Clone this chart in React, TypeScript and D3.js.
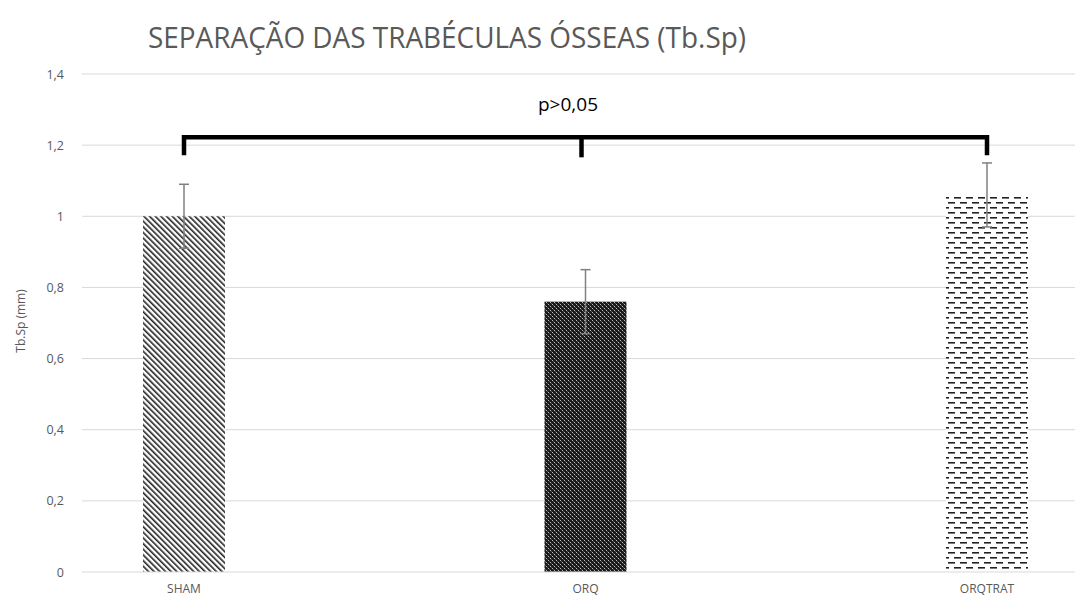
import React from "react";
import * as d3 from "d3";

const categories = ["SHAM", "ORQ", "ORQTRAT"];
const means = [1.0, 0.76, 1.06];
const errors = [0.09, 0.09, 0.09];
const yTicks = [0, 0.2, 0.4, 0.6, 0.8, 1.0, 1.2, 1.4];
const patternIds = ["pSham", "pOrq", "pOrqtrat"];
const title = "SEPARAÇÃO DAS TRABÉCULAS ÓSSEAS (Tb.Sp)";
const yLabel = "Tb.Sp (mm)";
const pLabel = "p>0,05";
const bracketLevel = 1.222;

const W = 1082;
const H = 600;

export default function App() {
  const y = d3.scaleLinear().domain([0, 1.4]).range([572, 74]);
  const x = d3.scalePoint<string>().domain(categories).range([184, 987]);
  const barW = 82;
  const fmt = (v: number) => (Number.isInteger(v) ? String(v) : d3.format(".1f")(v).replace(".", ","));
  const by = y(bracketLevel);
  const tickBottom = by + 18;
  const xs = categories.map((c) => x(c)!);
  const mid = (xs[0] + xs[2]) / 2;

  return (
    <svg width={W} height={H} style={{ position: "absolute", left: 0, top: 0, background: "#fff" }}>
      <defs>
        <pattern id="pSham" width="4" height="4" patternUnits="userSpaceOnUse" patternTransform="rotate(-45)">
          <rect width="4" height="4" fill="#fff" />
          <rect x="0" y="0" width="1.6" height="4" fill="#222" />
        </pattern>
        <pattern id="pOrq" width="4" height="4" patternUnits="userSpaceOnUse">
          <rect width="4" height="4" fill="#1a1a1a" />
          <rect x="0" y="0" width="1" height="1" fill="#bbb" />
          <rect x="2" y="2" width="1" height="1" fill="#bbb" />
          <rect x="1" y="1" width="1" height="1" fill="#555" />
          <rect x="3" y="3" width="1" height="1" fill="#555" />
        </pattern>
        <pattern id="pOrqtrat" width="12" height="10" patternUnits="userSpaceOnUse">
          <rect width="12" height="10" fill="#fff" />
          <rect x="0" y="2" width="7" height="1.6" fill="#222" />
          <rect x="6" y="7" width="7" height="1.6" fill="#222" />
          <rect x="-6" y="7" width="7" height="1.6" fill="#222" />
        </pattern>
      </defs>

      <text x={447} y={48} textAnchor="middle" fontFamily="'Open Sans', sans-serif" fontWeight={400}
        fontSize={29} fill="#595959" textLength={598} lengthAdjust="spacingAndGlyphs">{title}</text>

      {yTicks.map((t) => (
        <g key={t}>
          {t > 0 && <line x1={82} x2={1075} y1={y(t)} y2={y(t)} stroke="#d9d9d9" strokeWidth={1} />}
          <text x={64} y={y(t) + 4.5} textAnchor="end" fontFamily="'Open Sans', sans-serif" fontSize={12.5} fill="#595959">{fmt(t)}</text>
        </g>
      ))}

      <text transform={`translate(25,321) rotate(-90)`} textAnchor="middle" fontFamily="'Open Sans', sans-serif"
        fontSize={12} fill="#595959">{yLabel}</text>

      {categories.map((c, i) => (
        <g key={c}>
          <rect x={xs[i] - barW / 2} y={y(means[i])} width={barW} height={y(0) - y(means[i])}
            fill={`url(#${patternIds[i]})`} />
        </g>
      ))}

      <line x1={82} x2={1075} y1={y(0)} y2={y(0)} stroke="#d9d9d9" strokeWidth={1} />

      {categories.map((c, i) => (
        <g key={c + "e"} stroke="#808080" strokeWidth={1.5}>
          <line x1={xs[i]} x2={xs[i]} y1={y(means[i] + errors[i])} y2={y(means[i] - errors[i])} />
          <line x1={xs[i] - 5} x2={xs[i] + 5} y1={y(means[i] + errors[i])} y2={y(means[i] + errors[i])} />
          <line x1={xs[i] - 5} x2={xs[i] + 5} y1={y(means[i] - errors[i])} y2={y(means[i] - errors[i])} />
        </g>
      ))}

      {categories.map((c, i) => (
        <text key={c + "l"} x={xs[i]} y={593} textAnchor="middle" fontFamily="'Open Sans', sans-serif"
          fontSize={12} fill="#595959">{c}</text>
      ))}

      <path d={`M${xs[0]},${tickBottom}V${by}H${xs[2]}V${tickBottom}`} fill="none" stroke="#000" strokeWidth={4.5} />
      <line x1={mid - 4} x2={mid - 4} y1={by} y2={tickBottom + 2} stroke="#000" strokeWidth={4.5} />
      <text x={568} y={111} textAnchor="middle" fontFamily="'Open Sans', sans-serif" fontSize={19} fill="#000">{pLabel}</text>
    </svg>
  );
}
